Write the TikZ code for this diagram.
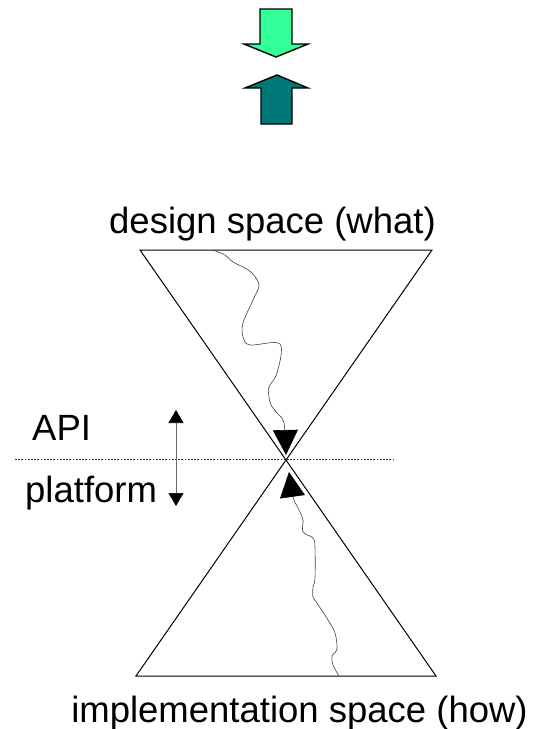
\documentclass[tikz,border=0pt]{standalone}
\usepackage{fontspec}
\setmainfont{Liberation Sans}
\usetikzlibrary{arrows.meta}

\definecolor{pushgreen}{RGB}{51,255,153}
\definecolor{pullteal}{RGB}{0,120,120}

\begin{document}
\begin{tikzpicture}[x=1pt,y=-1pt,
    caption/.style ={inner sep=0pt, font=\fontsize{36.5pt}{40pt}\selectfont},
    cone/.style ={line width=1pt, line join=miter},
    blockarrow/.style ={draw=black, line width=1.4pt, line join=miter},
    path/.style ={black!75, line width=0.6pt, smooth, tension=0.55},
    bighead/.style ={-{Triangle[width=25pt,length=25pt,black]}}]
   \useasboundingbox (0,0) rectangle (535,729);

   % the two block arrows on top
   \filldraw[blockarrow, fill=pushgreen] (260,9) -- (292,9) -- (292,44) -- (308,44)
      -- (276,57) -- (244,44) -- (260,44) -- cycle;
   \filldraw[blockarrow, fill=pullteal] (261,124) -- (292,124) -- (292,88) -- (308,88)
      -- (277,75) -- (245,88) -- (261,88) -- cycle;

   % hourglass
   \coordinate (tl) at (140,250);
   \coordinate (tr) at (432,250);
   \coordinate (apex) at (286,460);
   \coordinate (bl) at (136,676);
   \coordinate (br) at (436,676);
   \draw[cone] (tl) -- (tr) -- (apex) -- cycle;
   \draw[cone] (apex) -- (br) -- (bl) -- cycle;

   \node[caption, anchor=base] (what) at (272.5,233) {design space (what)};
   \node[caption, anchor=base] (how) at (299.5,722) {implementation space (how)};

   % API / platform boundary
   \coordinate (cutL) at (15,459);
   \coordinate (cutR) at (395,459);
   \draw[black!85, line width=0.8pt, dash pattern=on 1.8pt off 1.4pt] (cutL) -- (cutR);
   \node[caption, anchor=base west] (api) at (32,440) {API};
   \node[caption, anchor=base west] (platform) at (25,502) {platform};
   \coordinate (up) at (176,410);
   \coordinate (down) at (176,506);
   \draw[black!60, line width=0.7pt,
      {Triangle[width=15pt,length=13pt,black]}-{Triangle[width=15pt,length=13pt,black]}] (up) -- (down);

   % refinement paths meeting at the apex
   \draw[path, bighead] plot coordinates {(213,250) (218,252) (225,255) (233,262)
      (243,267) (252,273) (259,285) (253,300) (243,323) (243,337) (250,345)
      (280,344) (277,373) (269,387) (269,397) (271,405) (277,413) (284,423) (286,455)};
   \draw[path, bighead] plot coordinates {(339,676) (333,665) (332,656) (337,649)
      (335,633) (328,620) (317,603) (313,597) (313,587) (315,578) (315,547)
      (313,538) (303,532) (303,520) (300,512) (297,506) (293,497) (289,472)};
\end{tikzpicture}
\end{document}
